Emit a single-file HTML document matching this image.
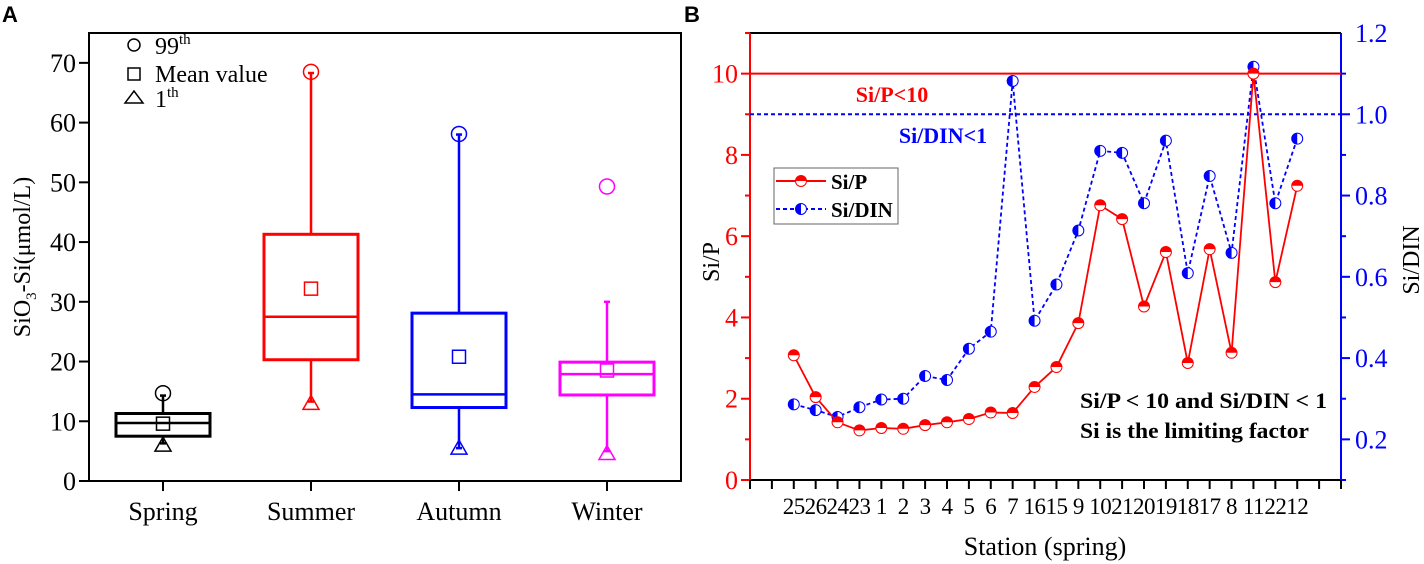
<!DOCTYPE html>
<html><head><meta charset="utf-8"><style>
html,body{margin:0;padding:0;background:#fff;}
svg{display:block;}
svg text{font-family:"Liberation Serif",serif;}
svg text.sans{font-family:"Liberation Sans",sans-serif;}
</style></head><body>
<svg id="chart" width="1424" height="564" viewBox="0 0 1424 564" xmlns="http://www.w3.org/2000/svg">
<text class="sans" x="2" y="22" font-weight="bold" font-size="22">A</text>
<text class="sans" x="684" y="22" font-weight="bold" font-size="22">B</text>
<g id="pa"></g>
<g id="pb"></g>
</svg>
<script>
// ---- Panel A data ----
const seasons = ["Spring","Summer","Autumn","Winter"];
const seasonColors = ["#000","#f00","#00f","#f0f"];
const q1 = [7.5,20.3,12.3,14.4];
const q3 = [11.3,41.3,28.1,19.9];
const medians = [9.7,27.5,14.5,17.9];
const means = [9.6,32.2,20.8,18.5];
const whiskerHigh = [14.3,68.3,58.0,30.0];
const whiskerLow = [6.3,13.3,5.5,5.0];
const p99 = [14.7,68.5,58.1,49.3];
const p1 = [6.0,13.0,5.5,4.6];
const yTicksA = [0,10,20,30,40,50,60,70];

// ---- Panel B data ----
const stations = ["25","26","24","23","1","2","3","4","5","6","7","16","15","9","10","21","20","19","18","17","8","11","22","12"];
const siP = [3.07,2.04,1.42,1.22,1.28,1.26,1.35,1.42,1.50,1.66,1.65,2.29,2.78,3.86,6.76,6.42,4.27,5.61,2.88,5.68,3.13,10.0,4.87,7.24];
const siDIN = [0.286,0.272,0.255,0.279,0.298,0.300,0.356,0.346,0.423,0.465,1.082,0.492,0.581,0.714,0.910,0.905,0.781,0.935,0.609,0.848,0.659,1.117,0.781,0.940];
const yTicksLeft = [0,2,4,6,8,10];
const yTicksRight = [0.2,0.4,0.6,0.8,1.0,1.2];
const siPThreshold = 10;
const siDINThreshold = 1;

const NS="http://www.w3.org/2000/svg";
function mk(parent,tag,attrs,text){const e=document.createElementNS(NS,tag);for(const k in attrs)e.setAttribute(k,attrs[k]);if(text!==undefined)e.textContent=text;parent.appendChild(e);return e;}

// ---------- Panel A ----------
const pa=document.getElementById('pa');
const AL=89,AR=681,AT=33,AB=481;
const ax=i=>AL+(i+0.5)*(AR-AL)/4;
const ay=v=>AB-(v/75)*(AB-AT);
let e;
e=mk(pa,'rect',{x:AL,y:AT,width:AR-AL,height:AB-AT,fill:'none',stroke:'#000','stroke-width':2});


yTicksA.forEach(v=>{
  e=mk(pa,'line',{x1:AL-10,x2:AL,y1:ay(v),y2:ay(v),stroke:'#000','stroke-width':2});
  
  
  e=mk(pa,'text',{x:AL-13,y:ay(v)+9,'text-anchor':'end','font-size':26},String(v));
  
  
});
e=mk(pa,'text',{transform:`translate(30,257) rotate(-90)`,'text-anchor':'middle','font-size':24});


e.innerHTML='SiO<tspan font-size="15" dy="6">3</tspan><tspan dy="-6">-Si(μmol/L)</tspan>';
seasons.forEach((s,i)=>{
  const c=seasonColors[i],x=ax(i),hw=47;
  e=mk(pa,'line',{x1:x,x2:x,y1:AB,y2:AB+10,stroke:'#000','stroke-width':2});
  
  
  e=mk(pa,'text',{x:x,y:520,'text-anchor':'middle','font-size':26},s);
  
  
  const g=mk(pa,'g',{});
  
  
  mk(g,'line',{x1:x,x2:x,y1:ay(q3[i]),y2:ay(whiskerHigh[i]),stroke:c,'stroke-width':2.5});
  mk(g,'line',{x1:x,x2:x,y1:ay(q1[i]),y2:ay(whiskerLow[i]),stroke:c,'stroke-width':2.5});
  mk(g,'line',{x1:x-3,x2:x+3,y1:ay(whiskerHigh[i]),y2:ay(whiskerHigh[i]),stroke:c,'stroke-width':2.5});
  mk(g,'line',{x1:x-3,x2:x+3,y1:ay(whiskerLow[i]),y2:ay(whiskerLow[i]),stroke:c,'stroke-width':2.5});
  mk(g,'rect',{x:x-hw,y:ay(q3[i]),width:2*hw,height:ay(q1[i])-ay(q3[i]),fill:'none',stroke:c,'stroke-width':3});
  mk(g,'line',{x1:x-hw,x2:x+hw,y1:ay(medians[i]),y2:ay(medians[i]),stroke:c,'stroke-width':2.5});
  mk(g,'rect',{x:x-6.5,y:ay(means[i])-6.5,width:13,height:13,fill:'none',stroke:c,'stroke-width':1.5});
  mk(g,'circle',{cx:x,cy:ay(p99[i]),r:7.5,fill:'none',stroke:c,'stroke-width':1.5});
  const ty=ay(p1[i]);
  mk(g,'polygon',{points:`${x-8},${ty+6} ${x+8},${ty+6} ${x},${ty-8}`,fill:'none',stroke:c,'stroke-width':1.5});
});
// legend A
const la=mk(pa,'g',{});


mk(la,'circle',{cx:134,cy:45,r:6,fill:'none',stroke:'#000','stroke-width':1.5});
mk(la,'rect',{x:128,y:68,width:12,height:12,fill:'none',stroke:'#000','stroke-width':1.5});
mk(la,'polygon',{points:'125,103 143,103 134,91',fill:'none',stroke:'#000','stroke-width':1.5});
e=mk(la,'text',{x:155,y:54,'font-size':24});e.innerHTML='99<tspan font-size="15" dy="-10">th</tspan>';
mk(la,'text',{x:155,y:82,'font-size':24},'Mean value');
e=mk(la,'text',{x:155,y:107,'font-size':24});e.innerHTML='1<tspan font-size="15" dy="-10">th</tspan>';

// ---------- Panel B ----------
const pb=document.getElementById('pb');
const BL=750,BR=1341,BT=33,BB=480;
const bx=i=>BL+(i+2)*(BR-BL)/27;
const byL=v=>BB-(v/11)*(BB-BT);
const byR=v=>BB-((v-0.1)/1.1)*(BB-BT);
e=mk(pb,'line',{x1:BL,x2:BR,y1:BT,y2:BT,stroke:'#000','stroke-width':2});


e=mk(pb,'line',{x1:BL,x2:BR,y1:BB,y2:BB,stroke:'#000','stroke-width':2});


e=mk(pb,'line',{x1:BL,x2:BL,y1:BT,y2:BB,stroke:'#f00','stroke-width':2});


e=mk(pb,'line',{x1:BR,x2:BR,y1:BT,y2:BB,stroke:'#00f','stroke-width':2});


for(let v=0;v<=11;v++){
  const major=v%2===0;
  mk(pb,'line',{x1:BL-(major?9:5),x2:BL,y1:byL(v),y2:byL(v),stroke:'#f00','stroke-width':2});
}
yTicksLeft.forEach(v=>{
  e=mk(pb,'text',{x:BL-12,y:byL(v)+9,'text-anchor':'end','font-size':26,fill:'#f00'},String(v));
  
  
});
for(let k=1;k<=11;k++){
  const v=k/10,major=k%2===0;
  mk(pb,'line',{x1:BR,x2:BR+(major?9:5),y1:byR(v),y2:byR(v),stroke:'#00f','stroke-width':2});
}
yTicksRight.forEach(v=>{
  e=mk(pb,'text',{x:BR+14,y:byR(v)+9,'font-size':26,fill:'#00f'},v.toFixed(1));
  
  
});
for(let k=0;k<=27;k++){
  const x=BL+k*(BR-BL)/27;
  mk(pb,'line',{x1:x,x2:x,y1:BB,y2:BB+9,stroke:'#000','stroke-width':2});
}
stations.forEach((s,i)=>{
  e=mk(pb,'text',{x:bx(i),y:514,'text-anchor':'middle','font-size':23,'letter-spacing':'-0.5'},s);
  
  
});
e=mk(pb,'text',{x:1045,y:555,'text-anchor':'middle','font-size':26},'Station (spring)');


e=mk(pb,'text',{transform:'translate(719,262) rotate(-90)','text-anchor':'middle','font-size':24},'Si/P');


e=mk(pb,'text',{transform:'translate(1419,260) rotate(-90)','text-anchor':'middle','font-size':24},'Si/DIN');


// thresholds
e=mk(pb,'line',{x1:BL,x2:BR,y1:byL(siPThreshold),y2:byL(siPThreshold),stroke:'#f00','stroke-width':2});


e=mk(pb,'line',{x1:BL,x2:BR,y1:byR(siDINThreshold),y2:byR(siDINThreshold),stroke:'#00f','stroke-width':2,'stroke-dasharray':'4,3'});


e=mk(pb,'text',{x:892,y:102,'text-anchor':'middle','font-size':22,'font-weight':'bold',fill:'#f00'},'Si/P<10');


e=mk(pb,'text',{x:943,y:143,'text-anchor':'middle','font-size':22,'font-weight':'bold',fill:'#00f'},'Si/DIN<1');


// series
function halfTop(g,x,y,c){mk(g,'circle',{cx:x,cy:y,r:5.5,fill:'#fff',stroke:c,'stroke-width':1});mk(g,'path',{d:`M${x-5.5},${y} A5.5,5.5 0 0 1 ${x+5.5},${y} Z`,fill:c});}
function halfLeft(g,x,y,c){mk(g,'circle',{cx:x,cy:y,r:5.5,fill:'#fff',stroke:c,'stroke-width':1});mk(g,'path',{d:`M${x},${y+5.5} A5.5,5.5 0 0 1 ${x},${y-5.5} Z`,fill:c});}
const gD=mk(pb,'g',{});


mk(gD,'polyline',{points:siDIN.map((v,i)=>bx(i)+','+byR(v)).join(' '),fill:'none',stroke:'#00f','stroke-width':1.8,'stroke-dasharray':'4,3'});
siDIN.forEach((v,i)=>halfLeft(gD,bx(i),byR(v),'#00f'));
const gP=mk(pb,'g',{});


mk(gP,'polyline',{points:siP.map((v,i)=>bx(i)+','+byL(v)).join(' '),fill:'none',stroke:'#f00','stroke-width':1.8});
siP.forEach((v,i)=>halfTop(gP,bx(i),byL(v),'#f00'));
// legend B
const lb=mk(pb,'g',{});


mk(lb,'rect',{x:774,y:168,width:124,height:56,fill:'#fff',stroke:'#666','stroke-width':1});
mk(lb,'line',{x1:776,x2:826,y1:181,y2:181,stroke:'#f00','stroke-width':2});
halfTop(lb,801,181,'#f00');
mk(lb,'line',{x1:776,x2:826,y1:209,y2:209,stroke:'#00f','stroke-width':2,'stroke-dasharray':'4,3'});
halfLeft(lb,801,209,'#00f');
mk(lb,'text',{x:831,y:189,'font-size':21,'font-weight':'bold'},'Si/P');
mk(lb,'text',{x:831,y:217,'font-size':21,'font-weight':'bold'},'Si/DIN');
e=mk(pb,'text',{x:1080,y:408,'font-size':22,'font-weight':'bold',textLength:247,lengthAdjust:'spacingAndGlyphs'},'Si/P < 10 and Si/DIN < 1');


e=mk(pb,'text',{x:1080,y:438,'font-size':22,'font-weight':'bold',textLength:229,lengthAdjust:'spacingAndGlyphs'},'Si is the limiting factor');


</script>
</body></html>
